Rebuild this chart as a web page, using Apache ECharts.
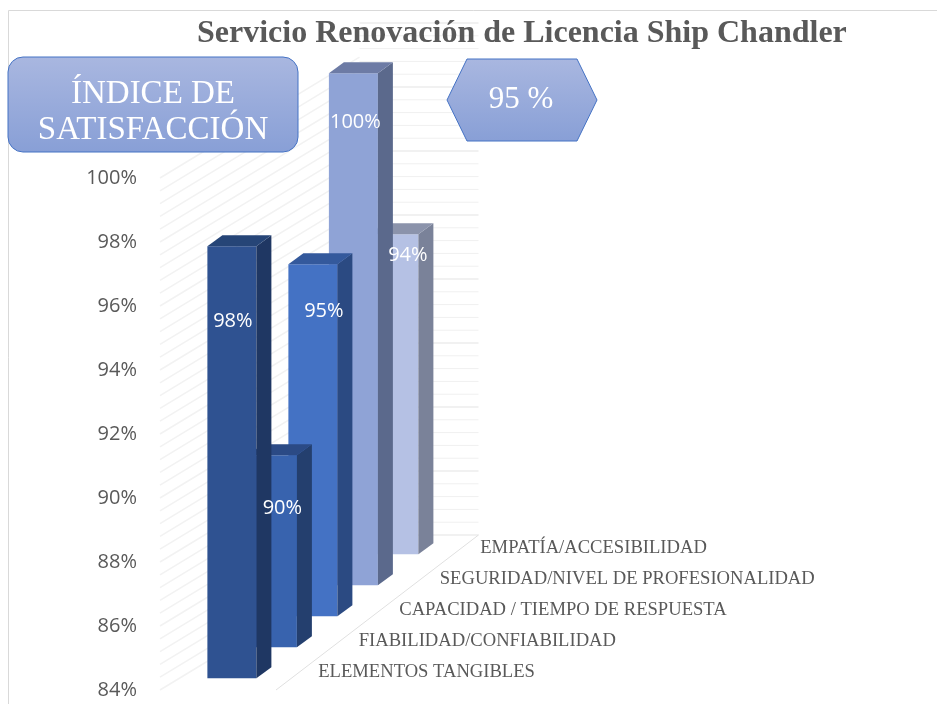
<!DOCTYPE html>
<html>
<head>
<meta charset="utf-8">
<title>Servicio Renovación de Licencia Ship Chandler</title>
<script src="https://cdn.jsdelivr.net/npm/echarts@6/dist/echarts.min.js"></script>
<style>
  html, body { margin: 0; padding: 0; background: #fff; }
  #chart { width: 937px; height: 704px; }
</style>
</head>
<body>
<div id="chart"></div>
<script>
// datos
const categories = [
  'ELEMENTOS TANGIBLES',
  'FIABILIDAD/CONFIABILIDAD',
  'CAPACIDAD / TIEMPO DE RESPUESTA',
  'SEGURIDAD/NIVEL DE PROFESIONALIDAD',
  'EMPATÍA/ACCESIBILIDAD'
]
const values = [97.5, 90, 95, 100, 94]
const yMin = 84
const yMax = 100
const yStep = 2

// estilo de las barras (frente, lado, tapa)
const barColors = [
  ['#2f5291', '#1f3763', '#264577'],
  ['#3863ae', '#243f6e', '#2b4a85'],
  ['#4472c4', '#2b4a82', '#34599c'],
  ['#8fa3d6', '#5b698c', '#6d7ba5'],
  ['#b5c1e4', '#7a8299', '#8b93ab']
]
const labelOffsets = [[1, 75], [10, 53], [11, 47], [2, 49], [14, 21]] // posición de la etiqueta dentro de la barra

const DX = 40.5 // desplazamiento por serie en profundidad
const DY = -31
const BAR_W = 49
const SIDE_DX = 15
const SIDE_DY = -11

const chart = echarts.init(document.getElementById('chart'))

const mean = values.reduce((a, b) => a + b, 0) / values.length

function renderBar(params, api) {
  const i = params.dataIndex
  const v = api.value(1)
  const top = api.coord([0, v])
  const base = api.coord([0, yMin])
  const band = api.size([1, 0])[0]
  const t = i + 0.38
  const left = top[0] - BAR_W / 2 + t * DX
  const yT = top[1] + t * DY
  const yB = base[1] + t * DY
  const c = barColors[i]
  const z = 10 - i
  const r = left + BAR_W
  return {
    type: 'group',
    children: [
      { type: 'rect', z2: z, shape: { x: left, y: yT, width: BAR_W, height: yB - yT }, style: { fill: c[0] } },
      { type: 'polygon', z2: z, shape: { points: [[r, yT], [r + SIDE_DX, yT + SIDE_DY], [r + SIDE_DX, yB + SIDE_DY], [r, yB]] }, style: { fill: c[1] } },
      { type: 'polygon', z2: z, shape: { points: [[left, yT], [left + SIDE_DX, yT + SIDE_DY], [r + SIDE_DX, yT + SIDE_DY], [r, yT]] }, style: { fill: c[2] } },
      {
        type: 'text', z2: 20,
        style: {
          x: left + BAR_W / 2 + labelOffsets[i][0], y: yT + labelOffsets[i][1],
          text: Math.round(v) + '%', fill: '#fff', fontSize: 20, fontFamily: 'Open Sans',
          align: 'center', verticalAlign: 'middle', textAlign: 'center', textVerticalAlign: 'middle'
        }
      },
      {
        type: 'text', z2: 20,
        style: {
          x: top[0] + band / 2 + (i + 0.5) * DX + 22, y: base[1] + (i + 0.5) * DY - 2.5,
          text: categories[i], fill: '#595959', fontSize: 18.6, fontFamily: 'Liberation Serif',
          align: 'left', verticalAlign: 'middle', textAlign: 'left', textVerticalAlign: 'middle'
        }
      }
    ]
  }
}

// paredes y piso (líneas de división)
function renderWalls(params, api) {
  const band = api.size([1, 0])[0]
  const base = api.coord([0, yMin])
  const x0 = base[0] - band / 2
  const x1 = base[0] + band / 2
  const depth = categories.length
  const children = []
  for (let k = 0; k <= (yMax - yMin) / 0.4 + 0.01; k++) {
    const v = yMin + k * 0.4
    const p = api.coord([0, v])
    const major = Math.abs(v / yStep - Math.round(v / yStep)) < 0.01
    // pared trasera
    children.push({
      type: 'line',
      shape: { x1: x0 + depth * DX, y1: p[1] + depth * DY, x2: x1 + depth * DX, y2: p[1] + depth * DY },
      style: { stroke: major ? '#e3e3e3' : '#f0f0f0', lineWidth: 1 }
    })
    // pared lateral
    children.push({
      type: 'line',
      shape: { x1: x0 + 3, y1: p[1], x2: x0 + depth * DX, y2: p[1] + depth * DY * 0.78 },
      style: { stroke: '#f2f2f2', lineWidth: 1.5 }
    })
  }
  // borde del piso
  children.push({
    type: 'line',
    shape: { x1: x1, y1: base[1], x2: x1 + depth * DX, y2: base[1] + depth * DY },
    style: { stroke: '#e0e0e0', lineWidth: 1 }
  })
  return { type: 'group', children: children }
}

const boxFill = new echarts.graphic.LinearGradient(0, 0, 0, 1, [
  { offset: 0, color: '#a9b7e0' },
  { offset: 1, color: '#889fd6' }
])

chart.setOption({
  animation: false,
  title: {
    text: 'Servicio Renovación de Licencia Ship Chandler',
    left: 192,
    top: 13,
    textStyle: { fontFamily: 'Liberation Serif', fontSize: 32, fontWeight: 'bold', color: '#595959' }
  },
  grid: { left: 157, width: 119, top: 178, bottom: 14 },
  xAxis: { type: 'category', data: [''], show: false },
  yAxis: {
    type: 'value',
    min: yMin,
    max: yMax,
    interval: yStep,
    axisLine: { show: false },
    axisTick: { show: false },
    splitLine: { show: false },
    axisLabel: { formatter: '{value}%', margin: 20, color: '#595959', fontSize: 20, fontFamily: 'Open Sans' }
  },
  graphic: [
    { type: 'rect', z: -10, shape: { x: 8.5, y: 10.5, width: 940, height: 700 }, style: { fill: 'none', stroke: '#d9d9d9', lineWidth: 1 } },
    {
      type: 'rect', z: 50, shape: { x: 8, y: 57, width: 290, height: 95, r: 15 },
      style: { fill: boxFill, stroke: '#4472c4', lineWidth: 1 }
    },
    {
      type: 'text', z: 51, x: 153, y: 112,
      style: {
        text: 'ÍNDICE DE\nSATISFACCIÓN', fill: '#fff', fontSize: 33, fontFamily: 'Liberation Serif',
        lineHeight: 36, align: 'center', verticalAlign: 'middle'
      }
    },
    {
      type: 'polygon', z: 50,
      shape: { points: [[447, 100], [467, 59], [577, 59], [597, 100], [577, 141], [467, 141]] },
      style: { fill: boxFill, stroke: '#4472c4', lineWidth: 1 }
    },
    {
      type: 'text', z: 51, x: 521, y: 100,
      style: {
        text: Math.round(mean) + ' %', fill: '#fff', fontSize: 31, fontFamily: 'Liberation Serif',
        align: 'center', verticalAlign: 'middle'
      }
    }
  ],
  series: [
    {
      type: 'custom',
      z: 1,
      renderItem: renderWalls,
      data: [[0, yMin]],
      silent: true
    },
    {
      type: 'custom',
      z: 2,
      renderItem: renderBar,
      data: values.map((v, i) => [0, v, i])
    }
  ]
})
</script>
</body>
</html>
